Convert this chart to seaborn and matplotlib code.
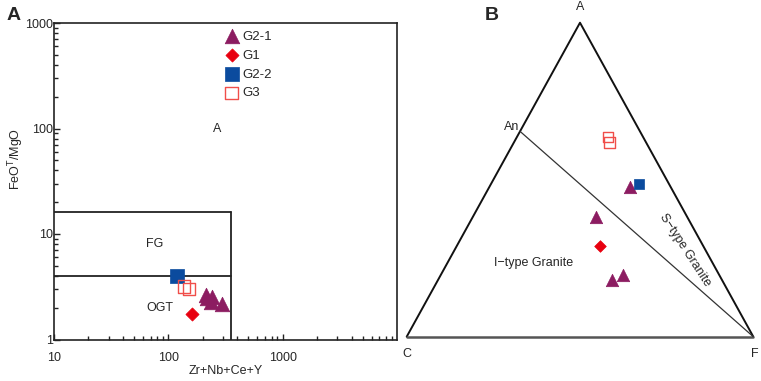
import numpy as np
import pandas as pd
import seaborn as sns
import matplotlib.pyplot as plt
from matplotlib.ticker import LogLocator, NullFormatter

sns.set_style("white")
plt.rcParams["font.family"] = ["Liberation Sans", "DejaVu Sans"]

# ---- panel A data (Whalen et al. discrimination) ----
groups = ["G2-1", "G1", "G2-2", "G3"]
colors = {"G2-1": "#8c1c61", "G1": "#e8000f", "G2-2": "#0b4b9e", "G3": "#f04e4a"}
markers = {"G2-1": "^", "G1": "D", "G2-2": "s", "G3": "s"}

zr_sum = {
    "G2-1": [215, 241, 220, 234, 297],
    "G1": [161],
    "G2-2": [119],
    "G3": [137, 151],
}
feo_mgo = {
    "G2-1": [2.66, 2.53, 2.47, 2.25, 2.17],
    "G1": [1.76],
    "G2-2": [3.96],
    "G3": [3.18, 3.0],
}

# ---- panel B data (A-C-F ternary), fractions ----
tern_A = {
    "G2-1": [0.477, 0.382, 0.181, 0.196],
    "G1": [0.289],
    "G2-2": [0.485],
    "G3": [0.637, 0.618],
}
tern_F = {
    "G2-1": [0.406, 0.354, 0.503, 0.527],
    "G1": [0.413],
    "G2-2": [0.427],
    "G3": [0.262, 0.276],
}
an_A = 0.654  # An point on the C-A edge


def tern_xy(a, f):
    a = np.asarray(a, float)
    f = np.asarray(f, float)
    return f + 0.5 * a, a


W, H = 761, 381
fig = plt.figure(figsize=(W / 100, H / 100), dpi=100)

# ---------------- panel A ----------------
ax = fig.add_axes([54 / W, (H - 339.5) / H, 343 / W, 316.5 / H])
ax.set_xscale("log")
ax.set_yscale("log")
ax.set_xlim(10, 10000)
ax.set_ylim(1, 1000)

# field boundaries
ax.plot([10, 350], [16, 16], color="#222222", lw=1.3)
ax.plot([10, 350], [4, 4], color="#222222", lw=1.3)
ax.plot([350, 350], [1, 16], color="#222222", lw=1.3)

sizes = {"G2-1": 110, "G1": 45, "G2-2": 95, "G3": 80}
for g in groups:
    d = pd.DataFrame({"x": zr_sum[g], "y": feo_mgo[g]})
    if g == "G3":
        sns.scatterplot(data=d, x="x", y="y", ax=ax, marker=markers[g], s=sizes[g],
                        fc="none", ec=colors[g], linewidth=1.0, label=g, zorder=3)
    else:
        sns.scatterplot(data=d, x="x", y="y", ax=ax, marker=markers[g], s=sizes[g],
                        color=colors[g], edgecolor=colors[g], linewidth=0.5, label=g, zorder=3)

ax.text(270, 100, "A", fontsize=9, ha="center", va="center")
ax.text(76, 8, "FG", fontsize=9, ha="center", va="center")
ax.text(84, 2.0, "OGT", fontsize=9, ha="center", va="center")

ax.set_xticks([10, 100, 1000])
ax.set_xticklabels(["10", "100", "1000"])
ax.set_yticks([1, 10, 100, 1000])
ax.set_yticklabels(["1", "10", "100", "1000"])
ax.xaxis.set_minor_locator(LogLocator(base=10, subs=np.arange(2, 10)))
ax.yaxis.set_minor_locator(LogLocator(base=10, subs=np.arange(2, 10)))
ax.xaxis.set_minor_formatter(NullFormatter())
ax.yaxis.set_minor_formatter(NullFormatter())
ax.tick_params(which="both", direction="in", color="#222222", labelsize=9)
ax.tick_params(which="major", length=4, width=1)
ax.tick_params(which="minor", length=3, width=1)
ax.tick_params(axis="y", which="both", left=True, pad=0.5)
ax.tick_params(axis="x", which="both", bottom=True, pad=9)
for s in ax.spines.values():
    s.set_color("#222222")
    s.set_linewidth(1.2)

ax.set_xlabel("Zr+Nb+Ce+Y", fontsize=9)
ax.set_ylabel("FeO$^{\\mathrm{T}}$/MgO", fontsize=9)
ax.xaxis.set_label_coords(0.5, -0.082)
ax.yaxis.set_label_coords(-0.081, 0.57)

leg = ax.legend(loc="upper left", bbox_to_anchor=(0.462, 1.005), frameon=False,
                fontsize=9.5, handletextpad=0.1, labelspacing=0.5, borderpad=0.2,
                handlelength=1.5)

# ---------------- panel B ----------------
bx = fig.add_axes([406.7 / W, (H - 336.7) / H, 346.6 / W, 314 / H])
bx.set_xlim(0, 1)
bx.set_ylim(0, 1)
bx.axis("off")

bx.plot([0, 0.5, 1], [0, 1, 0], color="#111111", lw=1.4, clip_on=False)
bx.plot([0, 1], [0, 0], color="#555555", lw=1.8, clip_on=False)
anx, any_ = tern_xy([an_A], [0.0])
bx.plot([anx[0], 1], [any_[0], 0], color="#333333", lw=0.9, clip_on=False)

tsizes = {"G2-1": 80, "G1": 35, "G2-2": 60, "G3": 55}
for g in groups:
    tx, ty = tern_xy(tern_A[g], tern_F[g])
    d = pd.DataFrame({"x": tx, "y": ty})
    if g == "G3":
        sns.scatterplot(data=d, x="x", y="y", ax=bx, marker=markers[g], s=tsizes[g],
                        fc="none", ec=colors[g], linewidth=1.0, legend=False, zorder=3)
    else:
        sns.scatterplot(data=d, x="x", y="y", ax=bx, marker=markers[g], s=tsizes[g],
                        color=colors[g], edgecolor=colors[g], linewidth=0.5, legend=False, zorder=3)

bx.text(0.5, 1.05, "A", fontsize=9, ha="center", va="center", clip_on=False)
bx.text(0.0, -0.054, "C", fontsize=9, ha="center", va="center", clip_on=False)
bx.text(1.005, -0.054, "F", fontsize=9, ha="center", va="center", clip_on=False)
bx.text(anx[0] - 0.025, any_[0] + 0.015, "An", fontsize=9, ha="center", va="center")
bx.text(0.365, 0.234, "I\u2212type Granite", fontsize=9, ha="center", va="center")
bx.text(0.803, 0.276, "S\u2212type Granite", fontsize=9, ha="center", va="center",
        rotation=-57, rotation_mode="anchor")

# panel letters
fig.text(14 / W, 1 - 15 / H, "A", fontsize=14, fontweight="bold", ha="center", va="center")
fig.text(492 / W, 1 - 15 / H, "B", fontsize=14, fontweight="bold", ha="center", va="center")

fig.savefig("out.png", dpi=100)
